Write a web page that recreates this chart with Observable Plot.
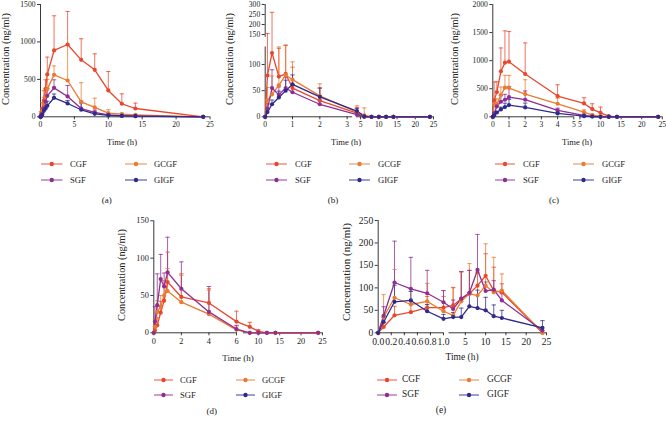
<!DOCTYPE html>
<html><head><meta charset="utf-8">
<script src="https://cdn.jsdelivr.net/npm/d3@7"></script>
<script src="https://cdn.jsdelivr.net/npm/@observablehq/plot@0.6"></script>
<style>
body{margin:0;background:#fff;}
#fig{position:relative;width:666px;height:421px;overflow:hidden;font-family:"Liberation Serif",serif;color:#222;background:#fff;}
.t{position:absolute;white-space:nowrap;line-height:1;}
.p{position:absolute;}
</style></head><body><div id="fig"></div>
<script>
const groups = ["CGF", "GCGF", "SGF", "GIGF"];
const colors = ["#e8472e", "#ea7a31", "#8e2e92", "#2e2b8c"];
const times = [0, 0.083, 0.25, 0.5, 0.75, 1, 2, 4, 6, 8, 10, 12, 14, 24];
const yTitle = "Concentration (ng/ml)";
const xTitle = "Time (h)";

// (a)
const aCGF = [0, 40, 110, 218, 374, 566, 886, 966, 761, 628, 352, 174, 111, 0];
const aCGFsd = [0, 30, 80, 130, 120, 231, 463, 441, 281, 213, 253, 133, 72, 0];
const aGCGF = [0, 20, 80, 180, 272, 370, 560, 485, 200, 125, 50, 36, 27, 0];
const aGCGFsd = [0, 10, 40, 80, 100, 130, 120, 470, 255, 124, 44, 10, 5, 0];
const aSGF = [0, 10, 40, 110, 200, 280, 387, 272, 110, 60, 25, 15, 10, 0];
const aSGFsd = [0, 5, 20, 50, 80, 100, 107, 146, 100, 30, 10, 5, 5, 0];
const aGIGF = [0, 5, 30, 80, 110, 147, 254, 178, 94, 40, 20, 12, 8, 0];
const aGIGFsd = [0, 3, 10, 30, 40, 60, 50, 40, 90, 20, 10, 5, 4, 0];
// (b)
const bCGF = [0, 79, 122, 77, 82, 55, 31, 7, 0, 0, 0, 0, 0, 0];
const bCGFsd = [0, 76, 139, 53, 52, 40, 24, 11, 0, 0, 0, 0, 0, 0];
const bGCGF = [0, 31, 43, 60, 80, 71, 40, 9, 3, 0, 0, 0, 0, 0];
const bGCGFsd = [0, 25, 35, 72, 55, 34, 23, 12, 14, 0, 0, 0, 0, 0];
const bSGF = [0, 15, 55, 42, 55, 47, 24, 4, 0, 0, 0, 0, 0, 0];
const bSGFsd = [0, 10, 35, 15, 20, 15, 8, 3, 0, 0, 0, 0, 0, 0];
const bGIGF = [0, 9, 24, 37, 50, 62, 38, 11, 1, 0, 0, 0, 0, 0];
const bGIGFsd = [0, 5, 8, 12, 20, 18, 17, 5, 0, 0, 0, 0, 0, 0];
// (c)
const cCGF = [0, 292, 440, 810, 964, 982, 762, 369, 238, 137, 71, 12, 0, 0];
const cCGFsd = [0, 327, 185, 416, 566, 536, 553, 202, 101, 95, 102, 0, 0, 0];
const cGCGF = [0, 232, 220, 387, 518, 512, 405, 232, 83, 30, 10, 0, 0, 0];
const cGCGFsd = [0, 80, 100, 143, 220, 226, 255, 100, 40, 20, 10, 0, 0, 0];
const cSGF = [0, 60, 185, 268, 304, 351, 304, 113, 24, 5, 0, 0, 0, 0];
const cSGFsd = [0, 30, 60, 112, 96, 190, 156, 40, 15, 5, 0, 0, 0, 0];
const cGIGF = [0, 24, 77, 131, 173, 208, 167, 60, 12, 5, 0, 0, 0, 0];
const cGIGFsd = [0, 10, 20, 40, 70, 102, 77, 20, 8, 3, 0, 0, 0, 0];
// (d)
const dCGF = [0, 3, 10, 27, 43, 68, 48, 40, 15, 8, 2, 0, 0, 0];
const dCGFsd = [0, 5, 10, 15, 20, 40, 31, 19, 14, 6, 2, 0, 0, 0];
const dGCGF = [0, 8, 28, 35, 50, 56, 41, 25, 4, 0, 0, 0, 0, 0];
const dGCGFsd = [0, 10, 15, 15, 20, 30, 36, 32, 5, 0, 0, 0, 0, 0];
const dSGF = [0, 15, 37, 72, 62, 81, 59, 28, 5, 0, 0, 0, 0, 0];
const dSGFsd = [0, 20, 42, 33, 18, 47, 36, 34, 5, 0, 0, 0, 0, 0];
const dGIGF = [];
const dGIGFsd = [];
// (e)
const eCGF = [0, 13, 39, 46, 56, 56, 61, 76, 87, 105, 127, 94, 90, 0];
const eCGFsd = [0, 10, 20, 20, 25, 25, 40, 60, 52, 30, 49, 52, 19, 0];
const eGCGF = [0, 35, 78, 63, 70, 48, 39, 70, 87, 83, 105, 90, 94, 0];
const eGCGFsd = [0, 50, 63, 35, 40, 46, 61, 66, 67, 50, 93, 78, 37, 0];
const eSGF = [0, 38, 112, 98, 88, 68, 53, 76, 89, 140, 93, 96, 72, 5];
const eSGFsd = [0, 20, 92, 70, 51, 26, 20, 60, 50, 79, 20, 20, 15, 0];
const eGIGF = [0, 24, 69, 72, 48, 31, 35, 35, 59, 55, 50, 37, 33, 11];
const eGIGFsd = [0, 10, 37, 20, 15, 10, 10, 20, 26, 40, 29, 25, 17, 16];

// axis ticks
const aXTicks = [0, 5, 10, 15, 20, 25], aYTicks = [0, 500, 1000, 1500];
const bXTicks = [0, 1, 2, 3, 5, 10, 15, 20, 25], bYTicks = [0, 50, 100, 150, 200, 250, 300];
const cXTicks = [0, 1, 2, 3, 4, 5, 5.0001, 10, 15, 20, 25], cYTicks = [0, 500, 1000, 1500, 2000];
const dXTicks = [0, 2, 4, 6, 10, 15, 20, 25], dYTicks = [0, 50, 100, 150];
const eXTicks = [0, 0.2, 0.4, 0.6, 0.8, 1.0, 5, 10, 15, 20, 25], eYTicks = [0, 50, 100, 150, 200, 250];

const fig = document.getElementById("fig");
const FONT = "'Liberation Serif', 'Times New Roman', serif";
const capSymbol = {draw(ctx, size) { const w = Math.sqrt(size / Math.PI); ctx.moveTo(-w, 0); ctx.lineTo(w, 0); }};

function buildRows(means, sds) {
  const rows = [];
  groups.forEach((g, gi) => {
    means[gi].forEach((v, i) => rows.push({g, t: times[i], v, top: v + sds[gi][i]}));
  });
  return rows;
}

function text(s, x, y, size, rotate) {
  const el = document.createElement("div");
  el.className = "t";
  el.textContent = s;
  el.style.left = x + "px";
  el.style.top = y + "px";
  el.style.fontSize = size + "px";
  el.style.transform = "translate(-50%,-50%)" + (rotate ? " rotate(-90deg)" : "");
  fig.appendChild(el);
}

function legendEntry(g, x0, x1, tx, y, size) {
  const i = groups.indexOf(g);
  const ns = "http://www.w3.org/2000/svg";
  const svg = document.createElementNS(ns, "svg");
  svg.setAttribute("width", x1 - x0 + 2);
  svg.setAttribute("height", 8);
  svg.style.position = "absolute";
  svg.style.left = (x0 - 1) + "px";
  svg.style.top = (y - 4) + "px";
  const ln = document.createElementNS(ns, "line");
  ln.setAttribute("x1", 1); ln.setAttribute("x2", x1 - x0 + 1);
  ln.setAttribute("y1", 4); ln.setAttribute("y2", 4);
  ln.setAttribute("stroke", colors[i]); ln.setAttribute("stroke-width", 1.3); ln.setAttribute("stroke-opacity", 0.7);
  svg.appendChild(ln);
  const c = document.createElementNS(ns, "circle");
  c.setAttribute("cx", (x1 - x0) / 2 + 1); c.setAttribute("cy", 4); c.setAttribute("r", 2.2);
  c.setAttribute("fill", colors[i]);
  svg.appendChild(c);
  fig.appendChild(svg);
  const el = document.createElement("div");
  el.className = "t";
  el.textContent = g;
  el.style.left = tx + "px";
  el.style.top = y + "px";
  el.style.fontSize = size + "px";
  el.style.transform = "translate(0,-50%)";
  fig.appendChild(el);
}

// Each panel: broken (piecewise) axes are handled by d3 piecewise scales mapping
// data values into the panel's pixel space; Plot then uses linear pixel scales.
function panel(cfg) {
  const data = buildRows(cfg.means, cfg.sds);
  const errs = data.filter(d => d.top > d.v);
  const xs = d3.scaleLinear().domain(cfg.xDomain).range(cfg.xRange);
  const ys = d3.scaleLinear().domain(cfg.yDomain).range(cfg.yRange);
  const xTickPos = cfg.xTicks.map(xs), yTickPos = cfg.yTicks.map(ys);
  const xLab = new Map(xTickPos.map((p, i) => [p, cfg.xFmt(cfg.xTicks[i])]));
  const yLab = new Map(yTickPos.map((p, i) => [p, String(cfg.yTicks[i])]));
  const axisColor = "#222";
  const plot = Plot.plot({
    width: cfg.W, height: cfg.H,
    marginLeft: cfg.xRange[0], marginRight: cfg.W - cfg.xRange[cfg.xRange.length - 1],
    marginTop: cfg.yRange[cfg.yRange.length - 1], marginBottom: cfg.H - cfg.yRange[0],
    style: {background: "transparent", fontFamily: FONT, fontSize: cfg.fs + "px", color: "#222", overflow: "visible"},
    x: {domain: [0, cfg.W], range: [0, cfg.W]},
    y: {domain: [0, cfg.H], range: [0, cfg.H]},
    color: {domain: groups, range: colors},
    marks: [
      Plot.ruleY(cfg.xSeg, {x1: d => xs(d[0]), x2: d => xs(d[1]), y: ys(0), stroke: axisColor, strokeWidth: 0.9}),
      Plot.ruleX(cfg.ySeg, {y1: d => ys(d[0]), y2: d => ys(d[1]), x: xs(0), stroke: axisColor, strokeWidth: 0.9}),
      Plot.axisX({ticks: xTickPos, tickFormat: p => xLab.get(p), tickSize: 3, tickPadding: 2, label: null, stroke: axisColor, strokeWidth: 0.9, fontFamily: FONT, fontSize: cfg.fs}),
      Plot.axisY({ticks: yTickPos, tickFormat: p => yLab.get(p), tickSize: 3, tickPadding: 2, label: null, stroke: axisColor, strokeWidth: 0.9, fontFamily: FONT, fontSize: cfg.fs}),
      Plot.ruleX(errs, {x: d => xs(d.t), y1: d => ys(d.v), y2: d => ys(d.top), stroke: "g", strokeWidth: 0.9, strokeOpacity: 0.85}),
      Plot.dot(errs, {x: d => xs(d.t), y: d => ys(d.top), stroke: "g", fill: "none", symbol: capSymbol, r: 2.2, strokeWidth: 0.9, strokeOpacity: 0.85}),
      Plot.line(data, {x: d => xs(d.t), y: d => ys(d.v), z: "g", stroke: "g", strokeWidth: 1.3}),
      Plot.dot(data, {x: d => xs(d.t), y: d => ys(d.v), fill: "g", r: 2.1})
    ]
  });
  const wrap = document.createElement("div");
  wrap.className = "p";
  wrap.style.left = cfg.left + "px";
  wrap.style.top = cfg.top + "px";
  wrap.appendChild(plot);
  fig.appendChild(wrap);
}

const intFmt = d => String(Math.round(d));

panel({left: 0, top: 0, W: 222, H: 135, fs: 7.6,
  xDomain: [0, 25], xRange: [40, 209.5], yDomain: [0, 1500], yRange: [116.3, 4],
  xSeg: [[0, 25]], ySeg: [[0, 1500]], xTicks: aXTicks, yTicks: aYTicks, xFmt: intFmt,
  means: [aCGF, aGCGF, aSGF, aGIGF], sds: [aCGFsd, aGCGFsd, aSGFsd, aGIGFsd]});

panel({left: 222, top: 0, W: 222, H: 135, fs: 7.6,
  xDomain: [0, 3.2, 3.9, 25], xRange: [42.7, 130.1, 134.1, 211],
  yDomain: [0, 127, 150, 300], yRange: [116.3, 49.9, 34, 4],
  xSeg: [[0, 3.2], [3.9, 25]], ySeg: [[0, 132], [146, 300]], xTicks: bXTicks, yTicks: bYTicks, xFmt: intFmt,
  means: [bCGF, bGCGF, bSGF, bGIGF], sds: [bCGFsd, bGCGFsd, bSGFsd, bGIGFsd]});

panel({left: 444, top: 0, W: 222, H: 135, fs: 7.6,
  xDomain: [0, 5, 5.0001, 25], xRange: [48.3, 129.3, 135.4, 217.8],
  yDomain: [0, 2000], yRange: [116.3, 4],
  xSeg: [[0, 5], [5.0001, 25]], ySeg: [[0, 2000]], xTicks: cXTicks, yTicks: cYTicks, xFmt: intFmt,
  means: [cCGF, cGCGF, cSGF, cGIGF], sds: [cCGFsd, cGCGFsd, cSGFsd, cGIGFsd]});

panel({left: 90, top: 210, W: 240, H: 140, fs: 8.3,
  xDomain: [0, 6, 6.5, 25], xRange: [63.3, 146, 152.9, 231.9],
  yDomain: [0, 150], yRange: [122.3, 10.3],
  xSeg: [[0, 6], [6.5, 25]], ySeg: [[0, 150]], xTicks: dXTicks, yTicks: dYTicks, xFmt: intFmt,
  means: [dCGF, dGCGF, dSGF, dGIGF], sds: [dCGFsd, dGCGFsd, dSGFsd, dGIGFsd]});

panel({left: 330, top: 210, W: 336, H: 140, fs: 9.6,
  xDomain: [0, 1, 1.0001, 25], xRange: [47.7, 113, 118.6, 216],
  yDomain: [0, 250], yRange: [122.3, 10],
  xSeg: [[0, 1], [1.0001, 25]], ySeg: [[0, 250]], xTicks: eXTicks, yTicks: eYTicks,
  xFmt: d => d <= 1 ? d.toFixed(1) : String(Math.round(d)),
  means: [eCGF, eGCGF, eSGF, eGIGF], sds: [eCGFsd, eGCGFsd, eSGFsd, eGIGFsd]});

// axis titles
text(yTitle, 6, 59, 10.3, true);
text(yTitle, 229.5, 59, 10.3, true);
text(yTitle, 455, 59, 10.3, true);
text(yTitle, 121.7, 275, 10.3, true);
text(yTitle, 345.7, 272, 11, true);
text(xTitle, 122, 142, 8.6);
text(xTitle, 346, 142, 8.6);
text(xTitle, 577, 142, 8.6);
text(xTitle, 238, 358, 9);
text(xTitle, 462, 358, 9.5);

// legends
const legendLayouts = [
  {c1: [40.5, 62, 70], c2: [124.5, 146.5, 154], r: [164.3, 180], fs: 8.6},
  {c1: [266, 287, 295], c2: [349, 370, 378], r: [164.3, 180], fs: 8.6},
  {c1: [495, 515, 523], c2: [573, 594, 602], r: [164.3, 180], fs: 8.6},
  {c1: [154, 173, 180], c2: [236, 255, 262], r: [380, 395], fs: 8.6},
  {c1: [377, 397, 402], c2: [458.5, 478.5, 487], r: [380, 395], fs: 9.4}
];
legendLayouts.forEach(L => {
  legendEntry(groups[0], L.c1[0], L.c1[1], L.c1[2], L.r[0], L.fs);
  legendEntry(groups[1], L.c2[0], L.c2[1], L.c2[2], L.r[0], L.fs);
  legendEntry(groups[2], L.c1[0], L.c1[1], L.c1[2], L.r[1], L.fs);
  legendEntry(groups[3], L.c2[0], L.c2[1], L.c2[2], L.r[1], L.fs);
});

// panel labels
text("(a)", 106.7, 200, 9);
text("(b)", 333, 200, 9);
text("(c)", 554, 200, 9);
text("(d)", 211.7, 411, 9);
text("(e)", 441, 411, 9.5);
</script>
</body></html>
